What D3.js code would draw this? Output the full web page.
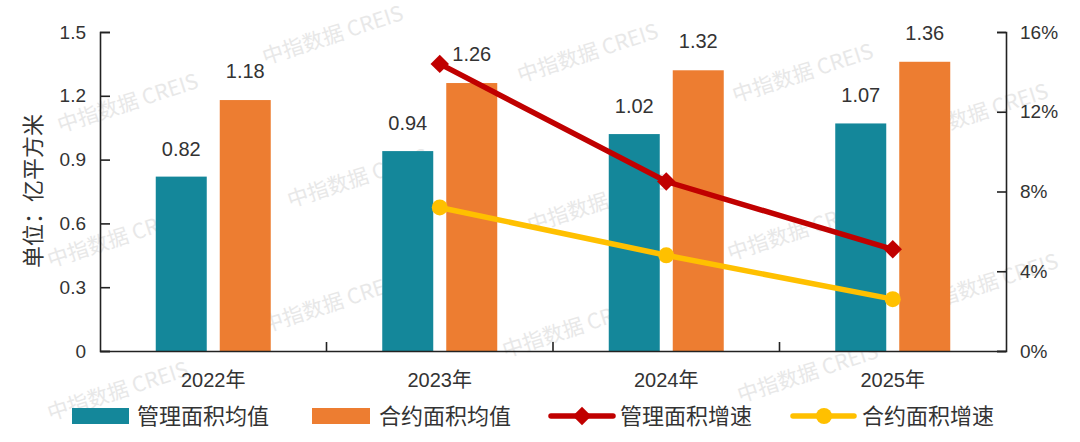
<!DOCTYPE html>
<html>
<head>
<meta charset="utf-8">
<script src="https://cdn.jsdelivr.net/npm/d3@7"></script>
<style>
  html, body { margin: 0; padding: 0; background: #fff; }
  svg { display: block; font-family: "Liberation Sans", Arial, "Noto Sans CJK SC", sans-serif; }
</style>
</head>
<body>
<svg id="chart" width="1080" height="442"></svg>
<script>
// data
const years = ['2022年', '2023年', '2024年', '2025年'];
const mgmtAvg = [0.82, 0.94, 1.02, 1.07];     // 管理面积均值
const contractAvg = [1.18, 1.26, 1.32, 1.36]; // 合约面积均值
const mgmtGrowth = [null, 14.4, 8.5, 5.1];    // 管理面积增速 (%)
const contractGrowth = [null, 7.2, 4.8, 2.6]; // 合约面积增速 (%)
const leftTicks = [0, 0.3, 0.6, 0.9, 1.2, 1.5];
const rightTicks = [0, 4, 8, 12, 16];

const COLORS = { teal: '#14879a', orange: '#ed7d31', red: '#c00000', yellow: '#ffc000' };
const TEXT = '#333';
const CJK = '"Noto Sans CJK SC", sans-serif';

const MARGINS = { top: 32, right: 74, bottom: 91, left: 100 };
const W = 1080, H = 442;

const svg = d3.select('#chart');

const x = d3.scaleBand().domain(years).range([MARGINS.left, W - MARGINS.right]);
const yL = d3.scaleLinear().domain([0, 1.5]).range([H - MARGINS.bottom, MARGINS.top]);
const yR = d3.scaleLinear().domain([0, 16]).range([H - MARGINS.bottom, MARGINS.top]);

// watermark layer (faint, behind everything), kept clear of the edges
const marks = [[335, 42], [130, 110], [590, 60], [805, 80], [360, 185], [600, 210],
  [120, 245], [800, 238], [990, 290], [335, 310], [575, 335], [120, 398], [810, 380], [980, 120]];
svg.append('g').selectAll('text').data(marks).join('text')
  .attr('transform', d => `translate(${d[0]},${d[1]}) rotate(-18)`)
  .attr('text-anchor', 'middle')
  .attr('font-family', CJK)
  .attr('font-size', 21)
  .attr('fill', '#e8e8e8')
  .text('中指数据 CREIS');

// bars
const barW = 51, barOff = 32;
const bars = svg.append('g');
years.forEach((yr, i) => {
  const cx = x(yr) + x.bandwidth() / 2;
  bars.append('rect')
    .attr('x', cx - barOff - barW / 2).attr('width', barW)
    .attr('y', yL(mgmtAvg[i])).attr('height', yL(0) - yL(mgmtAvg[i]))
    .attr('fill', COLORS.teal);
  bars.append('rect')
    .attr('x', cx + barOff - barW / 2).attr('width', barW)
    .attr('y', yL(contractAvg[i])).attr('height', yL(0) - yL(contractAvg[i]))
    .attr('fill', COLORS.orange);
  bars.append('text')
    .attr('x', cx - barOff).attr('y', yL(mgmtAvg[i]) - 21)
    .attr('text-anchor', 'middle').attr('font-size', 20).attr('fill', TEXT)
    .text(mgmtAvg[i].toFixed(2));
  bars.append('text')
    .attr('x', cx + barOff).attr('y', yL(contractAvg[i]) - 22)
    .attr('text-anchor', 'middle').attr('font-size', 20).attr('fill', TEXT)
    .text(contractAvg[i].toFixed(2));
});

// axes
const axisColor = '#222';
const left = svg.append('g')
  .attr('transform', `translate(${MARGINS.left},0)`)
  .call(d3.axisLeft(yL).tickValues(leftTicks).tickSize(-10).tickPadding(24)
    .tickFormat(d => d === 0 ? '0' : d3.format('.1f')(d)));
const right = svg.append('g')
  .attr('transform', `translate(${W - MARGINS.right},0)`)
  .call(d3.axisRight(yR).tickValues(rightTicks).tickSize(-9).tickPadding(24)
    .tickFormat(d => d + '%'));
const bottom = svg.append('g')
  .attr('transform', `translate(0,${yL(0)})`)
  .call(d3.axisBottom(x).tickSize(0).tickPadding(22));

[left, right, bottom].forEach(g => {
  g.select('.domain').attr('stroke', axisColor).attr('stroke-width', 1.6);
  g.selectAll('.tick line').attr('stroke', axisColor).attr('stroke-width', 1.6);
  g.selectAll('.tick text').attr('fill', TEXT).attr('font-size', 19)
    .attr('font-family', '"Liberation Sans", Arial, "Noto Sans CJK SC", sans-serif');
});
bottom.selectAll('.tick text').attr('font-size', 20);
right.selectAll('.tick text').attr('dx', -10);
left.selectAll('.tick text').attr('dx', 10);

// category boundary ticks on x axis (pointing up)
svg.append('g').selectAll('line').data(years.slice(1)).join('line')
  .attr('x1', d => x(d)).attr('x2', d => x(d))
  .attr('y1', yL(0)).attr('y2', yL(0) - 9)
  .attr('stroke', axisColor).attr('stroke-width', 1.6);

// y axis title
svg.append('text')
  .attr('transform', `translate(41,191) rotate(-90)`)
  .attr('text-anchor', 'middle')
  .attr('font-family', CJK).attr('font-size', 22).attr('fill', TEXT)
  .text('单位：亿平方米');

// growth lines
const cxOf = yr => x(yr) + x.bandwidth() / 2;
const line = d3.line()
  .defined(d => d.v != null)
  .x(d => cxOf(d.yr)).y(d => yR(d.v));

const redData = years.map((yr, i) => ({ yr, v: mgmtGrowth[i] }));
const yelData = years.map((yr, i) => ({ yr, v: contractGrowth[i] }));

svg.append('path').datum(yelData)
  .attr('d', line).attr('fill', 'none')
  .attr('stroke', COLORS.yellow).attr('stroke-width', 5.5);
svg.append('g').selectAll('circle').data(yelData.filter(d => d.v != null)).join('circle')
  .attr('cx', d => cxOf(d.yr)).attr('cy', d => yR(d.v)).attr('r', 8)
  .attr('fill', COLORS.yellow);

svg.append('path').datum(redData)
  .attr('d', line).attr('fill', 'none')
  .attr('stroke', COLORS.red).attr('stroke-width', 5.5);
// square rotated 45deg, as in the reference
const diamond = d3.symbol().type(d3.symbolSquare).size(170);
svg.append('g').selectAll('path').data(redData.filter(d => d.v != null)).join('path')
  .attr('transform', d => `translate(${cxOf(d.yr)},${yR(d.v)}) rotate(45)`)
  .attr('d', diamond).attr('fill', COLORS.red);

// legend
const ly = 416;
const legend = svg.append('g').attr('font-family', CJK).attr('font-size', 22).attr('fill', TEXT);
legend.append('rect').attr('x', 72).attr('y', ly - 8).attr('width', 57).attr('height', 16).attr('fill', COLORS.teal);
legend.append('text').attr('x', 137).attr('y', ly).attr('dy', '0.35em').text('管理面积均值');
legend.append('rect').attr('x', 312).attr('y', ly - 8).attr('width', 58).attr('height', 16).attr('fill', COLORS.orange);
legend.append('text').attr('x', 379).attr('y', ly).attr('dy', '0.35em').text('合约面积均值');
legend.append('line').attr('x1', 551).attr('x2', 613).attr('y1', ly).attr('y2', ly)
  .attr('stroke', COLORS.red).attr('stroke-width', 5.5).attr('stroke-linecap', 'round');
legend.append('path').attr('transform', `translate(582,${ly}) rotate(45)`).attr('d', diamond).attr('fill', COLORS.red);
legend.append('text').attr('x', 620).attr('y', ly).attr('dy', '0.35em').text('管理面积增速');
legend.append('line').attr('x1', 793).attr('x2', 854).attr('y1', ly).attr('y2', ly)
  .attr('stroke', COLORS.yellow).attr('stroke-width', 5.5).attr('stroke-linecap', 'round');
legend.append('circle').attr('cx', 824).attr('cy', ly).attr('r', 8).attr('fill', COLORS.yellow);
legend.append('text').attr('x', 862).attr('y', ly).attr('dy', '0.35em').text('合约面积增速');
</script>
</body>
</html>
